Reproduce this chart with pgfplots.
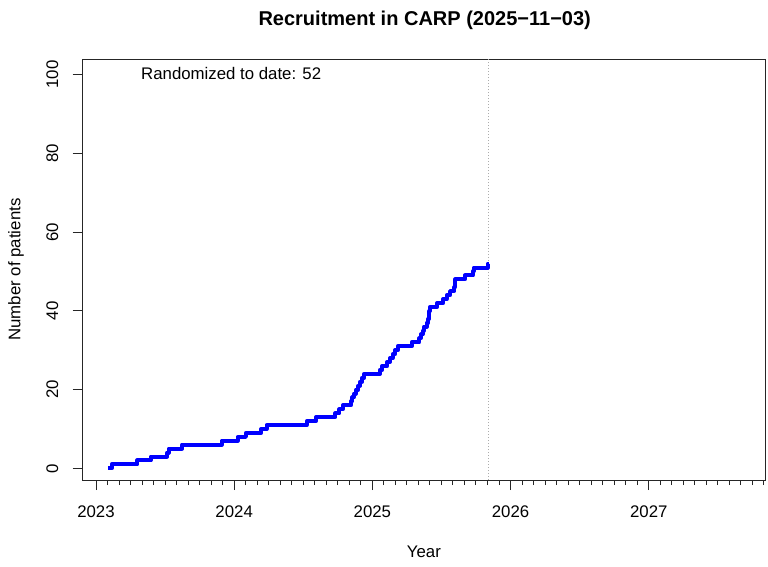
\documentclass[border=0pt]{standalone}
\usepackage{fontspec}
\setmainfont{Liberation Sans}
\usepackage{pgfplots}
\pgfplotsset{compat=1.18}
\newcommand{\lblfont}{\fontsize{16.8pt}{20pt}\selectfont}
\begin{document}
\begin{tikzpicture}
\useasboundingbox (0,0) rectangle (768pt,566pt);
\begin{axis}[
  at={(82.7pt,86pt)}, anchor=south west,
  scale only axis, width=682.3pt, height=421pt,
  xmin=2022.904, xmax=2027.841, ymin=-2.96, ymax=103.96,
  axis line style={black!85, line width=0.8pt},
  xtick={2023,2024,2025,2026,2027},
  xticklabels={2023,2024,2025,2026,2027},
  minor xtick={2023.08333,2023.16667,...,2027.85},
  ytick={0,20,40,60,80,100},
  yticklabels={0,20,40,60,80,100},
  tick align=outside, xtick pos=bottom, ytick pos=left,
  major tick length=10pt, minor tick length=5pt,
  every tick/.style={black!85, line width=0.8pt},
  tick label style={font=\lblfont, inner sep=0pt},
  xticklabel style={anchor=base},
  yticklabel style={rotate=90, anchor=base},
  xticklabel shift=27pt,
  yticklabel shift=14.7pt,
  clip=true,
]
\addplot[gray!65, line width=0.9pt, dash pattern=on 0.9pt off 2.1pt] coordinates {(2025.838,-2.96) (2025.838,103.96)};
\addplot[const plot, color={rgb,1:red,0;green,0;blue,1}, line width=4pt, line join=round] coordinates {
(2023.088,0) (2023.114,1) (2023.299,2) (2023.396,3) (2023.514,4) (2023.525,5)
(2023.622,6) (2023.910,7) (2024.025,8) (2024.085,9) (2024.196,10) (2024.235,11)
(2024.525,12) (2024.592,13) (2024.732,14) (2024.762,15) (2024.787,16) (2024.845,17)
(2024.856,18) (2024.867,19) (2024.881,20) (2024.899,21) (2024.910,22) (2024.925,23)
(2024.941,24) (2025.055,25) (2025.072,26) (2025.108,27) (2025.127,28) (2025.147,29)
(2025.164,30) (2025.183,31) (2025.284,32) (2025.339,33) (2025.350,34) (2025.364,35)
(2025.373,36) (2025.393,37) (2025.405,38) (2025.410,39) (2025.413,40) (2025.417,41)
(2025.470,42) (2025.513,43) (2025.538,44) (2025.562,45) (2025.593,46) (2025.598,47)
(2025.601,48) (2025.670,49) (2025.728,50) (2025.732,51) (2025.834,52) (2025.838,52)
};
\node[anchor=base west, font=\lblfont, inner sep=0pt] at (axis cs:2023.326,98.8) {Randomized to date: 52};
\end{axis}
\node[anchor=base, font=\bfseries\fontsize{20pt}{24pt}\selectfont, inner sep=0pt] at (424.7pt,540.7pt) {Recruitment in CARP (2025−11−03)};
\node[anchor=base, font=\lblfont, inner sep=0pt] at (423.9pt,9pt) {Year};
\node[anchor=base, rotate=90, font=\lblfont, inner sep=0pt] at (20.5pt,296.5pt) {Number of patients};
\end{tikzpicture}
\end{document}
